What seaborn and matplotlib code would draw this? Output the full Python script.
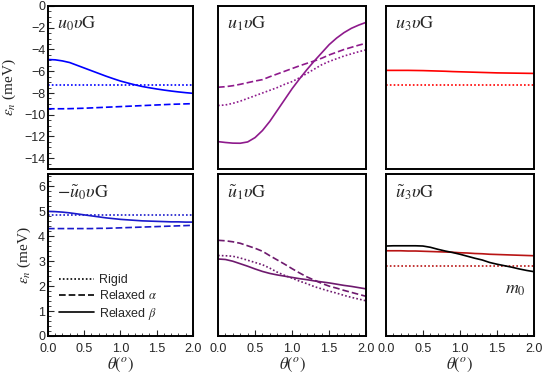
import numpy as np
import pandas as pd
import seaborn as sns
import matplotlib.pyplot as plt
from matplotlib.ticker import MultipleLocator
from matplotlib.lines import Line2D

sns.set_style('ticks')
plt.rcParams['font.family'] = ['Liberation Sans', 'DejaVu Sans']
plt.rcParams['mathtext.fontset'] = 'stix'

# theta grid (degrees)
theta = [0.0, 0.1, 0.2, 0.3, 0.4, 0.5, 0.6, 0.7, 0.8, 0.9, 1.0,
         1.1, 1.2, 1.3, 1.4, 1.5, 1.6, 1.7, 1.8, 1.9, 2.0]

# top row
u0_rigid = [-7.22] * len(theta)
u0_alpha = [-9.45, -9.45, -9.45, -9.44, -9.42, -9.40, -9.37, -9.34, -9.31, -9.28, -9.25,
            -9.22, -9.19, -9.16, -9.13, -9.10, -9.07, -9.04, -9.02, -9.00, -8.98]
u0_beta = [-4.92, -4.95, -5.05, -5.20, -5.45, -5.70, -5.95, -6.20, -6.45, -6.68, -6.90,
           -7.08, -7.25, -7.40, -7.52, -7.63, -7.73, -7.82, -7.90, -7.97, -8.03]

u1_rigid = [-9.15, -9.10, -8.95, -8.75, -8.50, -8.25, -8.00, -7.75, -7.50, -7.20, -6.95,
            -6.60, -6.20, -5.80, -5.40, -5.10, -4.85, -4.60, -4.40, -4.20, -4.03]
u1_alpha = [-7.47, -7.42, -7.33, -7.20, -7.05, -6.90, -6.77, -6.50, -6.25, -6.00, -5.75,
            -5.50, -5.27, -5.05, -4.80, -4.50, -4.25, -4.00, -3.80, -3.60, -3.42]
u1_beta = [-12.47, -12.55, -12.61, -12.62, -12.50, -12.10, -11.45, -10.60, -9.60, -8.60, -7.60,
           -6.70, -5.85, -5.05, -4.30, -3.55, -2.95, -2.45, -2.05, -1.75, -1.50]

u3_rigid = [-7.25] * len(theta)
u3_beta = [-5.92, -5.92, -5.92, -5.92, -5.93, -5.94, -5.96, -5.98, -6.00, -6.03, -6.05,
           -6.07, -6.09, -6.11, -6.13, -6.15, -6.16, -6.17, -6.18, -6.19, -6.20]

# bottom row
ut0_rigid = [4.84] * len(theta)
ut0_alpha = [4.31, 4.31, 4.31, 4.31, 4.31, 4.31, 4.31, 4.32, 4.32, 4.33, 4.34,
             4.35, 4.36, 4.37, 4.38, 4.39, 4.40, 4.41, 4.42, 4.43, 4.44]
ut0_beta = [5.00, 4.99, 4.97, 4.94, 4.90, 4.86, 4.82, 4.78, 4.74, 4.71, 4.68,
            4.66, 4.64, 4.62, 4.61, 4.60, 4.59, 4.58, 4.58, 4.57, 4.57]

ut1_rigid = [3.23, 3.22, 3.20, 3.13, 3.04, 2.95, 2.86, 2.72, 2.56, 2.43, 2.32,
             2.20, 2.10, 1.98, 1.89, 1.80, 1.72, 1.63, 1.55, 1.48, 1.41]
ut1_alpha = [3.84, 3.82, 3.78, 3.72, 3.62, 3.52, 3.40, 3.22, 3.05, 2.88, 2.70,
             2.53, 2.37, 2.24, 2.11, 2.00, 1.92, 1.83, 1.75, 1.67, 1.59]
ut1_beta = [3.09, 3.07, 3.00, 2.90, 2.80, 2.69, 2.59, 2.51, 2.45, 2.40, 2.35,
            2.30, 2.26, 2.21, 2.17, 2.13, 2.08, 2.03, 1.99, 1.94, 1.89]

ut3_rigid = [2.79] * len(theta)
ut3_beta = [3.42, 3.42, 3.42, 3.41, 3.41, 3.40, 3.39, 3.38, 3.37, 3.36, 3.34,
            3.33, 3.31, 3.30, 3.28, 3.27, 3.26, 3.25, 3.24, 3.23, 3.22]
m0 = [3.61, 3.62, 3.62, 3.62, 3.62, 3.61, 3.56, 3.48, 3.41, 3.35, 3.28,
      3.20, 3.12, 3.05, 2.95, 2.88, 2.82, 2.76, 2.69, 2.63, 2.58]

titles = [r'$u_0\upsilon\mathrm{G}$', r'$u_1\upsilon\mathrm{G}$', r'$u_3\upsilon\mathrm{G}$',
          r'$-\tilde{u}_0\upsilon\mathrm{G}$', r'$\tilde{u}_1\upsilon\mathrm{G}$',
          r'$\tilde{u}_3\upsilon\mathrm{G}$']

styles = {'rigid': (1, 1.3), 'alpha': (4, 1.8)}

fig = plt.figure(figsize=(5.45, 3.75), dpi=100)
lefts = [0.088, 0.400, 0.708]
widths = [0.266, 0.272, 0.272]
axes = []
for r, (b, h) in enumerate([(0.549, 0.435), (0.104, 0.432)]):
    for c in range(3):
        axes.append(fig.add_axes([lefts[c], b, widths[c], h]))

panels = [
    [(u0_rigid, 'blue', 'rigid'), (u0_alpha, 'blue', 'alpha'), (u0_beta, 'blue', 'beta')],
    [(u1_rigid, '#8e1a8c', 'rigid'), (u1_alpha, '#8e1a8c', 'alpha'), (u1_beta, '#8e1a8c', 'beta')],
    [(u3_rigid, 'red', 'rigid'), (u3_beta, 'red', 'beta')],
    [(ut0_rigid, '#1a1acc', 'rigid'), (ut0_alpha, '#1a1acc', 'alpha'), (ut0_beta, '#1a1acc', 'beta')],
    [(ut1_rigid, '#6e1a6e', 'rigid'), (ut1_alpha, '#6e1a6e', 'alpha'), (ut1_beta, '#6e1a6e', 'beta')],
    [(ut3_rigid, '#b81414', 'rigid'), (ut3_beta, '#b81414', 'beta'), (m0, 'black', 'beta')],
]

for i, ax in enumerate(axes):
    for vals, col, kind in panels[i]:
        df = pd.DataFrame({'theta': theta, 'e': vals})
        sns.lineplot(data=df, x='theta', y='e', ax=ax, color=col, lw=1.2)
        if kind in styles:
            ax.lines[-1].set_dashes(styles[kind])
    ax.set_xlim(0, 2)
    if i < 3:
        ax.set_ylim(-15, 0)
        ax.yaxis.set_major_locator(MultipleLocator(2))
        ax.yaxis.set_minor_locator(MultipleLocator(0.5))
    else:
        ax.set_ylim(0, 6.5)
        ax.yaxis.set_major_locator(MultipleLocator(1))
        ax.yaxis.set_minor_locator(MultipleLocator(0.2))
    ax.xaxis.set_major_locator(MultipleLocator(0.5))
    ax.xaxis.set_minor_locator(MultipleLocator(0.1))
    ax.tick_params(which='both', direction='in', labelsize=9, pad=2)
    ax.tick_params(axis='x', which='both', pad=5)
    ax.tick_params(which='major', length=4, width=0.8)
    ax.tick_params(which='minor', length=2, width=0.6)
    ax.set_xlabel('')
    ax.set_ylabel('')
    for s in ax.spines.values():
        s.set_linewidth(1.4)
        s.set_color('black')
    if i % 3 != 0:
        ax.tick_params(axis='y', which='both', left=False, labelleft=False)
    if i < 3:
        ax.tick_params(axis='x', which='both', bottom=False, labelbottom=False)
    else:
        ax.set_xticks([0, 0.5, 1.0, 1.5, 2.0])
        ax.set_xticklabels(['0.0', '0.5', '1.0', '1.5', '2.0'])
        ax.set_xlabel(r'$\theta(^o)$', fontsize=12, labelpad=1)
    if i % 3 == 0:
        ax.set_ylabel(r'$\epsilon_n$ (meV)', fontsize=11, family='Liberation Serif', labelpad=4)
    ax.text(0.06, 0.95, titles[i], transform=ax.transAxes, ha='left', va='top', fontsize=13)

axes[5].text(1.75, 1.85, r'$m_0$', fontsize=13, ha='center', va='center')

handles = [Line2D([], [], color='black', lw=1.2, dashes=styles['rigid']),
           Line2D([], [], color='black', lw=1.2, dashes=styles['alpha']),
           Line2D([], [], color='black', lw=1.2)]
axes[3].legend(handles, ['Rigid', r'Relaxed $\alpha$', r'Relaxed $\beta$'],
               loc='lower left', bbox_to_anchor=(0.0, 0.02), frameon=False,
               fontsize=9, handlelength=2.8, handletextpad=0.4, labelspacing=0.25)

fig.savefig('out.png', dpi=100)
